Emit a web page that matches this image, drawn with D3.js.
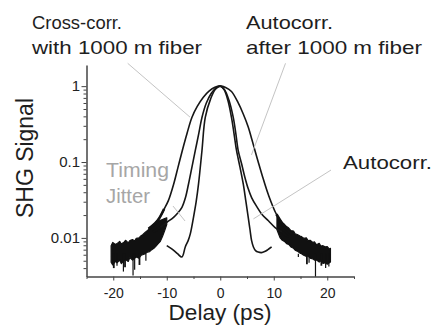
<!DOCTYPE html>
<html>
<head>
<meta charset="utf-8">
<script src="https://cdn.jsdelivr.net/npm/d3@7"></script>
<style>
  body { margin: 0; background: #fff; }
  svg { display: block; font-family: "Liberation Sans", Arial, sans-serif; }
  .axis path, .axis line { stroke: #444; }
  .axis text { fill: #222; font-family: "Liberation Sans", Arial, sans-serif; }
</style>
</head>
<body>
<div id="chart"></div>
<script>
// Autocorr. (narrow pulse, with the small hooks at the base)
const innerX = [-10.0, -9.0, -8.0, -7.16, -6.54, -6.0, -5.6, -5.0, -4.5, -4.06, -3.42, -2.8, -1.8, -0.9, 0,
  0.7, 1.4, 2.1, 2.6, 3.05, 3.7, 4.3, 4.8, 5.23, 5.55, 5.86, 6.2, 6.6, 7.1, 7.7, 8.3, 8.9, 9.6];
const innerY = [0.0079, 0.0071, 0.0062, 0.0056, 0.0076, 0.0092, 0.0113, 0.0187, 0.030, 0.0514, 0.141, 0.387, 0.68, 0.91, 1,
  0.90, 0.66, 0.387, 0.23, 0.141, 0.085, 0.0514, 0.030, 0.0187, 0.0130, 0.0092, 0.0076, 0.0068, 0.0065, 0.0064, 0.0066, 0.0070, 0.0076];

// Autocorr. after 1000 m fiber
const middleX = [-12.5, -11.2, -10.0, -8.73, -7.9, -7.16, -6.5, -5.93, -5.3, -4.67, -4.0, -3.42, -2.6, -1.7, -0.8, 0,
  0.8, 1.6, 2.43, 2.9, 3.36, 4.0, 4.6, 5.2, 5.86, 6.8, 7.73, 9.0, 10.2, 11.5, 12.7];
const middleY = [0.0120, 0.0138, 0.0160, 0.0187, 0.0215, 0.0253, 0.034, 0.0514, 0.085, 0.141, 0.24, 0.387, 0.60, 0.80, 0.95, 1,
  0.90, 0.66, 0.387, 0.24, 0.141, 0.094, 0.063, 0.045, 0.034, 0.026, 0.0207, 0.0168, 0.0138, 0.0120, 0.0103];

// Cross-corr. with 1000 m fiber
const outerX = [-13.4, -12.2, -11.4, -10.5, -9.7, -8.7, -7.9, -7.1, -6.2, -5.3, -4.3, -3.2, -2.1, -1.0, 0,
  1.0, 2.1, 3.36, 4.3, 5.23, 5.9, 6.5, 7.1, 7.8, 9.0, 10.5, 12.1, 13.4];
const outerY = [0.0132, 0.0155, 0.0182, 0.024, 0.031, 0.0514, 0.085, 0.141, 0.24, 0.387, 0.54, 0.71, 0.86, 0.965, 1,
  0.96, 0.85, 0.60, 0.43, 0.29, 0.20, 0.141, 0.10, 0.068, 0.037, 0.0205, 0.0138, 0.0112];

// noise floor of the two broad traces (envelopes)
const noiseLeftX = [-20.4, -20.1, -19.6, -19.3, -18.8, -18.5, -18.0, -17.7, -17.2, -16.9, -16.4, -16.0, -15.7,
  -15.2, -14.8, -14.5, -14.0, -13.6, -13.2, -12.8, -12.4, -12.0, -11.6, -11.2, -10.8, -10.4, -10.0];
const noiseLeftHi = [0.0079, 0.0087, 0.0082, 0.0084, 0.0090, 0.0083, 0.0088, 0.0093, 0.0086, 0.0092, 0.0095, 0.0091, 0.0099,
  0.0100, 0.0107, 0.0110, 0.0119, 0.0125, 0.0132, 0.0140, 0.0150, 0.0157, 0.0165, 0.0170, 0.0175, 0.0180, 0.0184];
const noiseLeftLo = [0.0048, 0.0044, 0.0049, 0.0047, 0.0051, 0.0046, 0.0050, 0.0052, 0.0049, 0.0055, 0.0051, 0.0054, 0.0056,
  0.0054, 0.0059, 0.0060, 0.0062, 0.0065, 0.0066, 0.0070, 0.0073, 0.0078, 0.0084, 0.0090, 0.0104, 0.0124, 0.0150];

const noiseRightX = [10.6, 11.2, 11.6, 12.0, 12.4, 12.8, 13.2, 13.7, 14.0, 14.4, 14.9, 15.2, 15.6, 16.1, 16.4,
  16.8, 17.3, 17.6, 18.0, 18.5, 18.8, 19.2, 19.7, 20.0, 20.4, 20.6];
const noiseRightHi = [0.0190, 0.0172, 0.0158, 0.0151, 0.0141, 0.0135, 0.0125, 0.0123, 0.0113, 0.0111, 0.0106, 0.0104, 0.0099, 0.0100, 0.0092,
  0.0093, 0.0087, 0.0089, 0.0081, 0.0085, 0.0078, 0.0079, 0.0076, 0.0077, 0.0071, 0.0073];
const noiseRightLo = [0.0128, 0.0100, 0.0093, 0.0090, 0.0084, 0.0082, 0.0076, 0.0073, 0.0069, 0.0067, 0.0063, 0.0062, 0.0059, 0.0057, 0.0058,
  0.0054, 0.0053, 0.0051, 0.0051, 0.0048, 0.0050, 0.0046, 0.0047, 0.0045, 0.0047, 0.0048];

const spikeX = [-19.9, -19.3, -18.1, -17.8, -16.3, -16.0, -15.1, -13.9, 14.6, 16.2, 16.6, 17.8, 18.9, 19.7, 20.3];
const spikeLow = [0.0040, 0.0043, 0.0036, 0.0041, 0.0032, 0.0038, 0.0044, 0.0050, 0.0056, 0.0045, 0.0047, 0.0031, 0.0043, 0.0040, 0.0042];

const xMajor = [-20, -10, 0, 10, 20];
const xMinor = [-25, -15, -5, 5, 15, 25];
const yMajor = [1, 0.1, 0.01];
const yMajorLabels = ["1", "0.1", "0.01"];
const yMinor = [0.004, 0.005, 0.006, 0.007, 0.008, 0.009,
  0.02, 0.03, 0.04, 0.05, 0.06, 0.07, 0.08, 0.09,
  0.2, 0.3, 0.4, 0.5, 0.6, 0.7, 0.8, 0.9];

const W = 435, H = 328;

const svg = d3.select("#chart").append("svg")
    .attr("width", W)
    .attr("height", H);

const x = d3.scaleLinear().domain([-25, 25]).range([86.5, 354]);
const y = d3.scaleLog().domain([0.0031, 1.9]).range([276.5, 65]);

// axes
const yAxis = svg.append("g")
    .attr("class", "axis")
    .attr("transform", "translate(86.5,0)")
    .call(d3.axisLeft(y).tickValues(yMajor).tickFormat((d, i) => yMajorLabels[i])
        .tickSize(5).tickSizeOuter(0).tickPadding(1.5));
yAxis.selectAll("text").style("font-size", "15px");

svg.append("g")
    .attr("class", "axis")
    .attr("transform", "translate(86.5,0)")
    .call(d3.axisLeft(y).tickValues(yMinor).tickFormat("").tickSize(3).tickSizeOuter(0))
    .select(".domain").remove();

const xAxis = svg.append("g")
    .attr("class", "axis")
    .attr("transform", "translate(0,276.5)")
    .call(d3.axisBottom(x).tickValues(xMajor).tickFormat(d => String(d))
        .tickSize(4).tickSizeOuter(0).tickPadding(7.5));
xAxis.selectAll("text").style("font-size", "14px");

svg.append("g")
    .attr("class", "axis")
    .attr("transform", "translate(0,276.5)")
    .call(d3.axisBottom(x).tickValues(xMinor).tickFormat("").tickSize(2.5).tickSizeOuter(0))
    .select(".domain").remove();

svg.selectAll(".axis .domain").attr("stroke-width", 1.5);

// noise band
const band = d3.area()
    .x(d => x(d[0]))
    .y0(d => y(d[1]))
    .y1(d => y(d[2]));

[[noiseLeftX, noiseLeftLo, noiseLeftHi], [noiseRightX, noiseRightLo, noiseRightHi]].forEach(([xs, lo, hi]) => {
    svg.append("path")
        .datum(xs.map((v, i) => [v, lo[i], hi[i]]))
        .attr("d", band)
        .attr("fill", "#111")
        .attr("stroke", "#111")
        .attr("stroke-width", 1.2)
        .attr("stroke-linejoin", "round");
});

svg.selectAll(".spike")
    .data(spikeX)
    .enter().append("line")
    .attr("class", "spike")
    .attr("x1", d => x(d))
    .attr("x2", d => x(d))
    .attr("y1", y(0.0062))
    .attr("y2", (d, i) => y(spikeLow[i]))
    .attr("stroke", "#111")
    .attr("stroke-width", (d, i) => i % 3 === 0 ? 1.8 : 1.2);

// traces
const line = d3.line()
    .x(d => x(d[0]))
    .y(d => y(d[1]))
    .curve(d3.curveCatmullRom.alpha(0.5));

[[outerX, outerY], [middleX, middleY], [innerX, innerY]].forEach(([xs, ys], k) => {
    const pts = xs.map((v, i) => [v, ys[i]]);
    svg.append("path")
        .datum(pts)
        .attr("d", line)
        .attr("fill", "none")
        .attr("stroke", "#161616")
        .attr("stroke-width", 1.6);
    if (k < 2) {
        // noisy tails look thicker
        [pts.filter(p => p[0] <= -10.4), pts.filter(p => p[0] >= 10.4)].forEach(seg => {
            svg.append("path")
                .datum(seg)
                .attr("d", line)
                .attr("fill", "none")
                .attr("stroke", "#111")
                .attr("stroke-width", 2.6);
        });
    }
});

// leader lines (data units: from, to)
const leaders = [
    [[-17.3, 2.0], [-5.64, 0.39]],
    [[12.2, 2.0], [5.83, 0.124]],
    [[20.7, 0.0784], [6.2, 0.0178]],
    [[-8.83, 0.0263], [-6.58, 0.0167]]
];
leaders.forEach(([a, b]) => {
    svg.append("line")
        .attr("x1", x(a[0])).attr("y1", y(a[1]))
        .attr("x2", x(b[0])).attr("y2", y(b[1]))
        .attr("stroke", "#c4c4c4")
        .attr("stroke-width", 1);
});

// labels
const label = (txt, px, py, size, len, color) => svg.append("text")
    .attr("x", px).attr("y", py)
    .attr("font-size", size)
    .attr("textLength", len)
    .attr("lengthAdjust", "spacingAndGlyphs")
    .attr("fill", color || "#1e1e1e")
    .text(txt);

label("Cross-corr.", 32, 28.5, 19, 90);
label("with 1000 m fiber", 32, 54, 19, 170);
label("Autocorr.", 246, 28.5, 19, 87);
label("after 1000 m fiber", 246, 54, 19, 176);
label("Autocorr.", 343, 169, 19, 89);
label("Timing", 106, 177, 20.5, 63, "#a6a6a6");
label("Jitter", 106, 202.5, 20.5, 44, "#a6a6a6");

svg.append("text")
    .attr("x", 220).attr("y", 320)
    .attr("text-anchor", "middle")
    .attr("font-size", 22)
    .attr("textLength", 103)
    .attr("lengthAdjust", "spacingAndGlyphs")
    .attr("fill", "#1e1e1e")
    .text("Delay (ps)");

svg.append("text")
    .attr("transform", "translate(33,158) rotate(-90)")
    .attr("text-anchor", "middle")
    .attr("font-size", 23)
    .attr("textLength", 120)
    .attr("lengthAdjust", "spacingAndGlyphs")
    .attr("fill", "#1e1e1e")
    .text("SHG Signal");
</script>
</body>
</html>
